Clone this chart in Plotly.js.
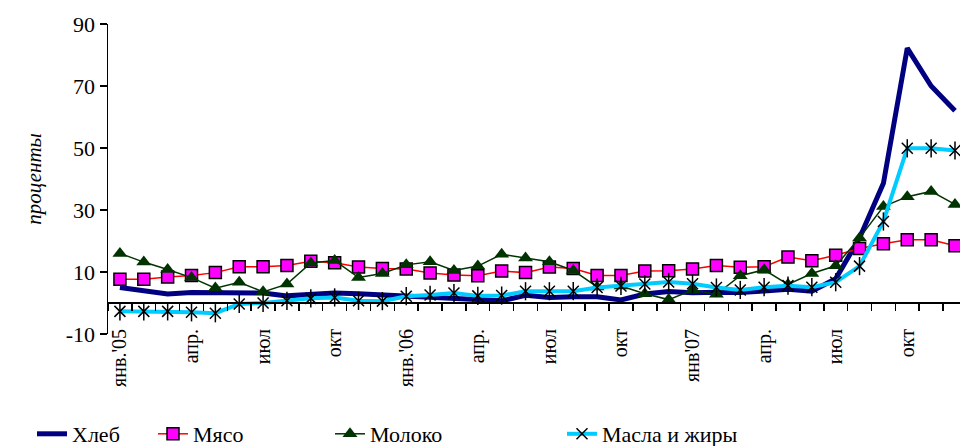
<!DOCTYPE html>
<html>
<head>
<meta charset="utf-8">
<script src="https://cdn.plot.ly/plotly-3.0.1.min.js"></script>
<style>
  html, body { margin: 0; padding: 0; background: #fff; overflow: hidden; }
  #chart { width: 960px; height: 446px; }
</style>
</head>
<body>
<div id="chart"></div>
<script>
// Monthly price growth, Jan 2005 – Dec 2007, % year on year
const months = [
  "янв.05","фев.05","мар.05","апр.05","май05","июн.05","июл.05","авг.05","сен.05","окт.05","ноя.05","дек.05",
  "янв.06","фев.06","мар.06","апр.06","май06","июн.06","июл.06","авг.06","сен.06","окт.06","ноя.06","дек.06",
  "янв.07","фев.07","мар.07","апр.07","май07","июн.07","июл.07","авг.07","сен.07","окт.07","ноя.07","дек.07"
];

const bread = [
  5.0, 3.9, 2.9, 3.4, 3.4, 3.4, 3.2, 2.3, 2.9, 3.2, 3.0, 2.6,
  2.3, 1.8, 1.8, 1.3, 0.7, 2.5, 1.8, 2.0, 2.0, 1.0, 2.9, 3.7,
  3.3, 3.5, 3.4, 3.9, 4.4, 3.8, 7.8, 21.0, 38.6, 82.2, 70.0, 62.0
];

const meat = [
  7.7, 7.7, 8.4, 8.9, 9.8, 11.7, 11.7, 12.1, 13.5, 13.0, 11.6, 11.1,
  11.0, 9.7, 9.0, 8.8, 10.3, 9.8, 11.6, 11.1, 8.9, 8.9, 10.3, 10.4,
  11.0, 12.1, 11.5, 11.7, 14.8, 13.6, 15.4, 17.6, 19.1, 20.4, 20.4, 18.5
];

const milk = [
  16.0, 13.2, 10.8, 8.2, 4.8, 6.7, 3.6, 6.1, 12.9, 13.7, 8.2, 9.5,
  12.3, 13.3, 10.5, 11.9, 15.7, 14.5, 13.3, 10.5, 5.2, 5.5, 3.0, 1.1,
  4.2, 2.8, 8.8, 10.7, 6.0, 9.5, 12.0, 21.0, 31.1, 34.3, 36.0, 31.8
];

const oils = [
  -2.7, -2.7, -2.7, -3.0, -3.3, -0.3, 0.0, 0.7, 1.5, 1.8, 0.7, 0.6,
  2.2, 2.6, 3.2, 2.3, 2.4, 3.8, 3.8, 3.8, 5.0, 5.5, 6.1, 6.8,
  6.2, 5.0, 4.2, 5.1, 5.6, 5.1, 6.7, 11.9, 26.3, 49.9, 49.9, 49.2
];

// Labelled months (every quarter)
const tickLabels = ["янв.'05","апр.","июл","окт","янв.'06","апр.","июл","окт","янв'07","апр.","июл","окт"];

// Value axis ticks
const yTickVals = [-10, 10, 30, 50, 70, 90];
const yTickText = ["-10", "10", "30", "50", "70", "90"];

const idx = months.map((m, i) => i);
const tickPos = tickLabels.map((t, i) => i * 3);

const serif = "Liberation Serif, serif";

const traces = [
  {
    name: "Хлеб", x: idx, y: bread, text: months, mode: "lines",
    line: { color: "#000080", width: 5 },
    legend: "legend"
  },
  {
    name: "Мясо", x: idx, y: meat, text: months, mode: "lines+markers",
    line: { color: "#ff0000", width: 1.5 },
    marker: { symbol: "square", size: 12, color: "#ff00ff", line: { color: "#000000", width: 1.5 } },
    legend: "legend2"
  },
  {
    name: "Молоко", x: idx, y: milk, text: months, mode: "lines+markers",
    line: { color: "#003300", width: 1.5 },
    marker: { symbol: "triangle-up", size: 13, color: "#003300" },
    legend: "legend3"
  },
  {
    name: "Масла и жиры", x: idx, y: oils, text: months, mode: "lines+markers",
    line: { color: "#00ccff", width: 4 },
    marker: { symbol: "x-thin-open", size: 11, color: "#000000", line: { color: "#000000", width: 1.5 } },
    legend: "legend4"
  },
  {
    // vertical stroke of the star marker; lives on the labelled month axis
    name: "Масла и жиры", x: idx, y: oils, mode: "markers", showlegend: false,
    xaxis: "x2", yaxis: "y",
    marker: { symbol: "line-ns-open", size: 13, color: "#000000", line: { color: "#000000", width: 1.5 } }
  }
];

const W = 960, H = 446;
const M = { l: 108, r: 0, t: 24, b: 112 };

// legends are placed in container coordinates so they don't shrink the plot area
const legendBase = {
  orientation: "h", xanchor: "left", yanchor: "top",
  xref: "container", yref: "container",
  y: 1 - 413 / H, bgcolor: "rgba(0,0,0,0)",
  font: { family: serif, size: 22, color: "#000" },
  itemwidth: 30
};

const xRange = [-0.5, 35.21];

const layout = {
  width: W, height: H,
  margin: M,
  paper_bgcolor: "#ffffff",
  plot_bgcolor: "#ffffff",
  showlegend: true,
  hovermode: false,
  font: { family: serif, color: "#000" },
  xaxis: {
    range: xRange, anchor: "free", position: 0.1,
    showgrid: false, zeroline: false,
    showline: true, linecolor: "#000", linewidth: 2,
    ticks: "outside", ticklen: 7, tickwidth: 1.5, tickcolor: "#000",
    tick0: -0.5, dtick: 1,
    showticklabels: false
  },
  xaxis2: {
    overlaying: "x", anchor: "y", side: "bottom",
    range: xRange, showgrid: false, zeroline: false, showline: false,
    ticks: "", tickmode: "array", tickvals: tickPos, ticktext: tickLabels,
    tickangle: -90, ticklabelstandoff: -10,
    tickfont: { family: serif, size: 20, color: "#000" }
  },
  yaxis: {
    range: [-10, 90], tickmode: "array", tickvals: yTickVals, ticktext: yTickText,
    showgrid: false, zeroline: false,
    showline: true, linecolor: "#000", linewidth: 1.5,
    ticks: "outside", ticklen: 7, tickwidth: 1.5, tickcolor: "#000",
    tickfont: { family: serif, size: 22, color: "#000" },
    title: { text: "<i>проценты</i>", font: { family: serif, size: 21, color: "#000" }, standoff: 18 }
  },
  legend:  Object.assign({}, legendBase, { x: 32 / W }),
  legend2: Object.assign({}, legendBase, { x: 153 / W }),
  legend3: Object.assign({}, legendBase, { x: 330 / W }),
  legend4: Object.assign({}, legendBase, { x: 562 / W })
};

traces.forEach(t => { t.cliponaxis = false; });

Plotly.newPlot("chart", traces, layout, { staticPlot: true, displayModeBar: false });
</script>
</body>
</html>
